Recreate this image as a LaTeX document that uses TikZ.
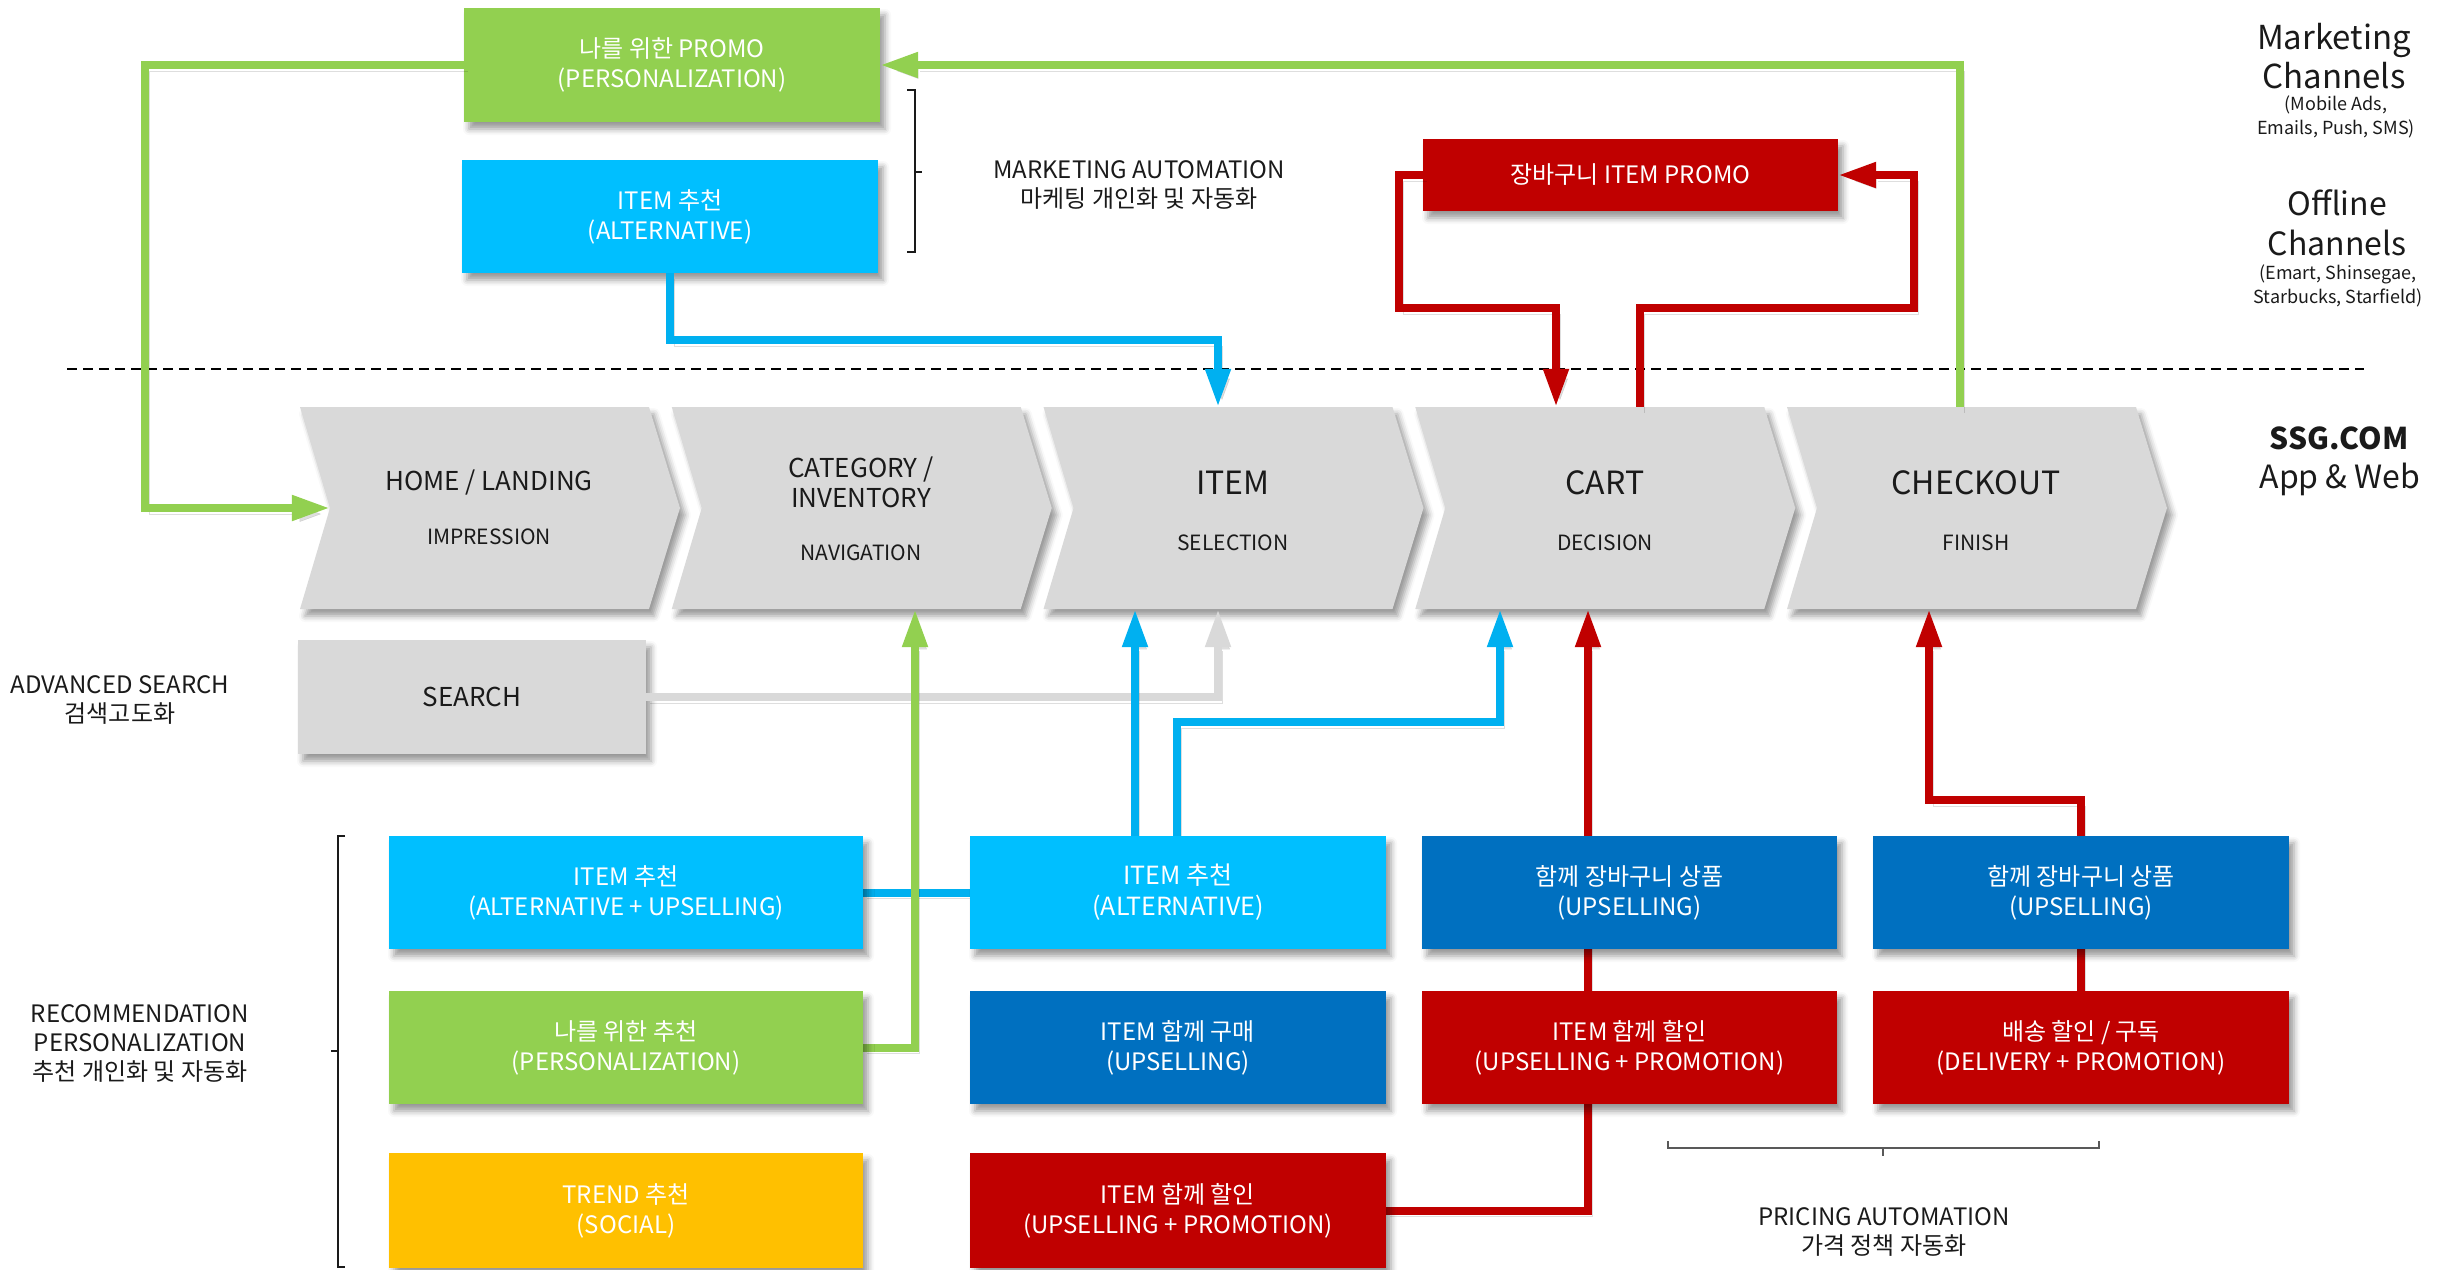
\documentclass[tikz,border=0pt]{standalone}
\usepackage{fontspec}
\setmainfont{Noto Sans CJK KR}
\usetikzlibrary{arrows.meta,shadows.blur,calc}
\definecolor{cgreen}{HTML}{92D050}
\definecolor{cblue}{HTML}{00BFFF}
\definecolor{cblueline}{HTML}{00B0F0}
\definecolor{cdblue}{HTML}{0070C0}
\definecolor{cred}{HTML}{C00000}
\definecolor{cyellow}{HTML}{FFC000}
\definecolor{cgray}{HTML}{D9D9D9}
\definecolor{ctext}{HTML}{1A1A1A}
\begin{document}
\begin{tikzpicture}[x=1pt,y=-1pt,
  myshadow/.style={blur shadow={shadow xshift=5pt,shadow yshift=-7pt,shadow blur radius=6pt,shadow opacity=40}},
  box/.style={rectangle, inner sep=0pt, align=center, text=white, font=\fontsize{24}{30}\selectfont, myshadow},
  boxA/.style={box, minimum width=416pt, minimum height=113pt},
  boxL/.style={box, minimum width=474pt, minimum height=114pt},
  chevshape/.style={fill=cgray, myshadow},
  chevnode/.style={rectangle, inner sep=0pt, minimum width=349pt, minimum height=202pt},
  ttl/.style={text=ctext, align=center, font=\fontsize{32}{36}\selectfont},
  ttlsm/.style={text=ctext, align=center, font=\fontsize{26}{30}\selectfont},
  sub/.style={text=ctext, align=center, font=\fontsize{21}{24}\selectfont},
  lbl/.style={text=ctext, align=center, font=\fontsize{24}{29}\selectfont},
  conn/.style={line width=8pt, line join=miter, preaction={draw=black, opacity=0.13, transform canvas={shift={(4pt,-6pt)}}}},
  arr/.style={-{Triangle[length=38pt,width=24pt]}},
  brk/.style={draw=ctext, line width=1.5pt}
]
\useasboundingbox (0,0) rectangle (2440,1269);

% dashed separator
\coordinate (dashL) at (67,369);
\coordinate (dashR) at (2364,369);
\draw[black, line width=2pt, dash pattern=on 10pt off 6pt] (dashL) -- (dashR);

% chevrons
\foreach \L in {300,671.75,1043.5,1415.25,1787}{
  \path[chevshape] (\L,407) -- ++(349,0) -- ++(31,101) -- ++(-31,101) -- ++(-349,0) -- ++(30,-101) -- cycle;
}
\node[chevnode] (home) at (474.5,508) {};
\node[chevnode] (cat)  at (846.25,508) {};
\node[chevnode] (item) at (1218,508) {};
\node[chevnode] (cart) at (1589.75,508) {};
\node[chevnode] (chk)  at (1961.5,508) {};
\coordinate (homein) at ($(home.west)+(30,0)$);

\node[ttlsm] (homeT) at (489,482) {HOME / LANDING};
\node[sub] (homeS) at (489,537) {IMPRESSION};
\node[ttlsm] (catT) at (861,482) {CATEGORY /\\INVENTORY};
\node[sub] (catS) at (861,553) {NAVIGATION};
\node[ttl] (itemT) at (1233,483) {ITEM};
\node[sub] (itemS) at (1233,543) {SELECTION};
\node[ttl] (cartT) at (1605,483) {CART};
\node[sub] (cartS) at (1605,543) {DECISION};
\node[ttl] (chkT) at (1976,483) {CHECKOUT};
\node[sub] (chkS) at (1976,543) {FINISH};

% connector helper coordinates
\coordinate (gR) at (1960,65);
\coordinate (gL) at (145,508);
\coordinate (bT) at (1218,340);
\coordinate (rL1) at (1399,308);
\coordinate (rL2) at (1556,308);
\coordinate (rR1) at (1640,308);
\coordinate (rR2) at (1914,308);
\coordinate (gS) at (1218,697);
\coordinate (b1) at (1135,700);
\coordinate (b2a) at (1177,722);
\coordinate (b2b) at (1500,722);
\coordinate (gP) at (915,1047);
\coordinate (rC) at (1588,1208);
\coordinate (rK1) at (1929,800);

% top boxes
\node[boxA, fill=cgreen, minimum height=114pt] (promo) at (672,65) {나를 위한 PROMO\\(PERSONALIZATION)};
\node[boxA, fill=cblue] (altT) at (670,216.5) {ITEM 추천\\(ALTERNATIVE)};
\node[box, fill=cred, minimum width=415pt, minimum height=72pt] (rpromo) at (1630.5,175) {장바구니 ITEM PROMO};

% top connectors
\draw[conn, arr, cgreen] (chk.north -| gR) |- (promo.east);
\draw[conn, arr, cgreen] (promo.west) -| (gL) -- (homein);
\draw[conn, arr, cblueline] (altT.south) |- (bT) -- (bT |- item.north);
\draw[conn, arr, cred] (rpromo.west) -| (rL1) -- (rL2) -- (rL2 |- cart.north);
\draw[conn, arr, cred] (rR1 |- cart.north) -- (rR1) -- (rR2) |- (rpromo.east);

% search
\node[box, fill=cgray, text=ctext, font=\fontsize{26}{30}\selectfont, minimum width=348pt, minimum height=114pt] (search) at (472,697) {SEARCH};

% lower boxes positions
\path (626,892.5) coordinate (c1r1C) (626,1047.5) coordinate (c1r2C) (626,1210.5) coordinate (c1r3C)
      (1178,892.5) coordinate (c2r1C) (1178,1047.5) coordinate (c2r2C) (1178,1210.5) coordinate (c2r3C)
      (1629.5,892.5) coordinate (c3r1C) (1629.5,1047.5) coordinate (c3r2C)
      (2081,892.5) coordinate (c4r1C) (2081,1047.5) coordinate (c4r2C);

% invisible anchors for lower boxes (drawn later on top of connectors)
\node[inner sep=0pt, minimum width=474pt, minimum height=113pt] (c1r1) at (c1r1C) {};
\node[inner sep=0pt, minimum width=474pt, minimum height=113pt] (c1r2) at (c1r2C) {};
\node[inner sep=0pt, minimum width=416pt, minimum height=113pt] (c2r1) at (c2r1C) {};
\node[inner sep=0pt, minimum width=416pt, minimum height=115pt] (c2r3) at (c2r3C) {};
\node[inner sep=0pt, minimum width=416pt, minimum height=113pt] (c4r2) at (c4r2C) {};

\draw[conn, arr, cgray] (search.east) -- (gS) -- (gS |- item.south);
\draw[conn, arr, cblueline] (b1 |- c2r1.north) -- (b1 |- item.south);
\draw[conn, arr, cblueline] (b2a |- c2r1.north) -- (b2a) -- (b2b) -- (b2b |- cart.south);
\draw[conn, cblueline] (c1r1.east) -- (c2r1.west);
\draw[conn, arr, cgreen] (c1r2.east) -- (gP |- c1r2.east) -- (gP |- cat.south);
\draw[conn, arr, cred] (c2r3.east) -- (rC |- c2r3.east) -- (rC |- cart.south);
\draw[conn, arr, cred] (c4r2.north) |- (rK1) -- (rK1 |- chk.south);

% ---------- lower boxes ----------
\node[boxL, minimum height=113pt, fill=cblue] (altup) at (c1r1C) {ITEM 추천\\(ALTERNATIVE + UPSELLING)};
\node[boxL, minimum height=113pt, fill=cgreen] (pers) at (c1r2C) {나를 위한 추천\\(PERSONALIZATION)};
\node[boxL, minimum height=115pt, fill=cyellow] (trend) at (c1r3C) {TREND 추천\\(SOCIAL)};
\node[boxA, fill=cblue, font=\fontsize{25}{31}\selectfont] (alt2) at (c2r1C) {ITEM 추천\\(ALTERNATIVE)};
\node[boxA, fill=cdblue] (buy2) at (c2r2C) {ITEM 함께 구매\\(UPSELLING)};
\node[boxA, fill=cred, minimum height=115pt] (disc2) at (c2r3C) {ITEM 함께 할인\\(UPSELLING + PROMOTION)};
\node[boxA, fill=cdblue, minimum width=415pt] (cart3) at (c3r1C) {함께 장바구니 상품\\(UPSELLING)};
\node[boxA, fill=cred, minimum width=415pt] (disc3) at (c3r2C) {ITEM 함께 할인\\(UPSELLING + PROMOTION)};
\node[boxA, fill=cdblue] (cart4) at (c4r1C) {함께 장바구니 상품\\(UPSELLING)};
\node[boxA, fill=cred] (deliv) at (c4r2C) {배송 할인 / 구독\\(DELIVERY + PROMOTION)};

% ---------- brackets ----------
\coordinate (bkA1) at (907,90);
\coordinate (bkA2) at (915,90);
\coordinate (bkA3) at (915,252);
\coordinate (bkA4) at (907,252);
\coordinate (bkAm) at (915,172);
\coordinate (bkAt) at (922,172);
\draw[brk] (bkA1) -- (bkA2) -- (bkA3) -- (bkA4);
\draw[brk] (bkAm) -- (bkAt);

\coordinate (bkB1) at (345,836);
\coordinate (bkB2) at (338,836);
\coordinate (bkB3) at (338,1267);
\coordinate (bkB4) at (345,1267);
\coordinate (bkBm) at (338,1051);
\coordinate (bkBt) at (331,1051);
\draw[brk] (bkB1) -- (bkB2) -- (bkB3) -- (bkB4);
\draw[brk] (bkBm) -- (bkBt);

\coordinate (bkC1) at (1668,1141);
\coordinate (bkC2) at (1668,1148);
\coordinate (bkC3) at (2099,1148);
\coordinate (bkC4) at (2099,1141);
\coordinate (bkCm) at (1883,1148);
\coordinate (bkCt) at (1883,1156);
\draw[brk, draw=black!65] (bkC1) -- (bkC2) -- (bkC3) -- (bkC4);
\draw[brk, draw=black!65] (bkCm) -- (bkCt);

% ---------- labels ----------
\node[lbl] (mktauto) at (1139,185) {MARKETING AUTOMATION\\마케팅 개인화 및 자동화};
\node[lbl] (advsearch) at (120,700) {ADVANCED SEARCH\\검색고도화};
\node[lbl] (recomm) at (140,1043) {RECOMMENDATION\\PERSONALIZATION\\추천 개인화 및 자동화};
\node[lbl] (pricing) at (1884,1232) {PRICING AUTOMATION\\가격 정책 자동화};

\node[text=ctext, align=center, font=\fontsize{33}{39}\selectfont] (mktch) at (2334,56) {Marketing\\Channels};
\node[text=ctext, align=center, font=\fontsize{18}{24}\selectfont] (mktchS) at (2336,117) {(Mobile Ads,\\Emails, Push, SMS)};
\node[text=ctext, align=center, font=\fontsize{32}{40}\selectfont] (offch) at (2337,223) {Offline\\Channels};
\node[text=ctext, align=center, font=\fontsize{18}{24}\selectfont] (offchS) at (2338,286) {(Emart, Shinsegae,\\Starbucks, Starfield)};
\node[text=ctext, align=center, font=\bfseries\fontsize{30}{38}\selectfont] (ssg) at (2339,438) {SSG.COM};
\node[text=ctext, align=center, font=\fontsize{32}{38}\selectfont] (appweb) at (2340,479) {App \& Web};
\end{tikzpicture}
\end{document}
